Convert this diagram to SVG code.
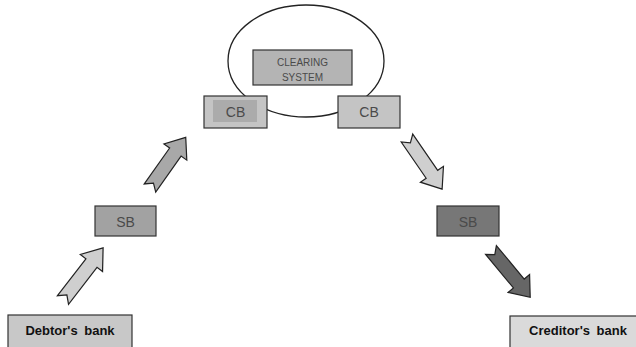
<svg xmlns="http://www.w3.org/2000/svg" width="636" height="347" viewBox="0 0 636 347">
<style>
.box{stroke:#333;stroke-width:1.2}
.lbl{font-family:"Liberation Sans",Arial,sans-serif;fill:#4a4a4a;text-anchor:middle}
.big{font-family:"Liberation Sans",Arial,sans-serif;font-weight:bold;fill:#111;text-anchor:middle;font-size:13px;word-spacing:3px}
.arr{stroke:#222;stroke-width:1.2;stroke-linejoin:miter}
</style>
<defs>
<polygon id="a" points="0,-7 44,-7 44,-14 62,0 44,14 44,7 0,7 6,0"/>
</defs>
<rect width="636" height="347" fill="#fff"/>
<g id="clearing">
<ellipse cx="306" cy="61" rx="78" ry="56" fill="none" stroke="#222" stroke-width="1.3"/>
<rect class="box" x="253" y="50" width="99" height="35" fill="#b4b4b4"/>
<text class="lbl" x="302.5" y="66" font-size="10">CLEARING</text>
<text class="lbl" x="302.5" y="80.5" font-size="10">SYSTEM</text>
</g>
<g id="cb-left">
<rect class="box" x="204" y="96" width="63" height="32" fill="#c4c4c4"/>
<rect x="213" y="100" width="44" height="22" fill="#ababab"/>
<text class="lbl" x="235.5" y="117" font-size="14">CB</text>
</g>
<g id="cb-right">
<rect class="box" x="338" y="96" width="62" height="32" fill="#c4c4c4"/>
<text class="lbl" x="369" y="117" font-size="14">CB</text>
</g>
<g id="sb-left">
<rect class="box" x="95" y="206" width="61" height="30" fill="#a2a2a2"/>
<text class="lbl" x="125.5" y="227" font-size="14">SB</text>
</g>
<g id="sb-right">
<rect class="box" x="437" y="206" width="62" height="30" fill="#777"/>
<text class="lbl" x="468" y="227" font-size="14">SB</text>
</g>
<g id="debtor">
<rect class="box" x="8" y="315" width="124" height="40" fill="#c8c8c8"/>
<text class="big" x="70" y="335">Debtor's bank</text>
</g>
<g id="creditor">
<rect class="box" x="510" y="316" width="140" height="40" fill="#dadada"/>
<text class="big" x="578" y="335">Creditor's bank</text>
</g>
<g id="connectors">
<use href="#a" class="arr" fill="#cfcfcf" transform="translate(63,300) rotate(-52.4) scale(1.06,1)"/>
<use href="#a" class="arr" fill="#a8a8a8" transform="translate(150,188) rotate(-54.8) scale(1.0,1)"/>
<use href="#a" class="arr" fill="#cfcfcf" transform="translate(407,138) rotate(55.5) scale(1.0,1)"/>
<use href="#a" class="arr" fill="#666" transform="translate(491,250) rotate(50.3) scale(0.99,1)"/>
</g>
</svg>
